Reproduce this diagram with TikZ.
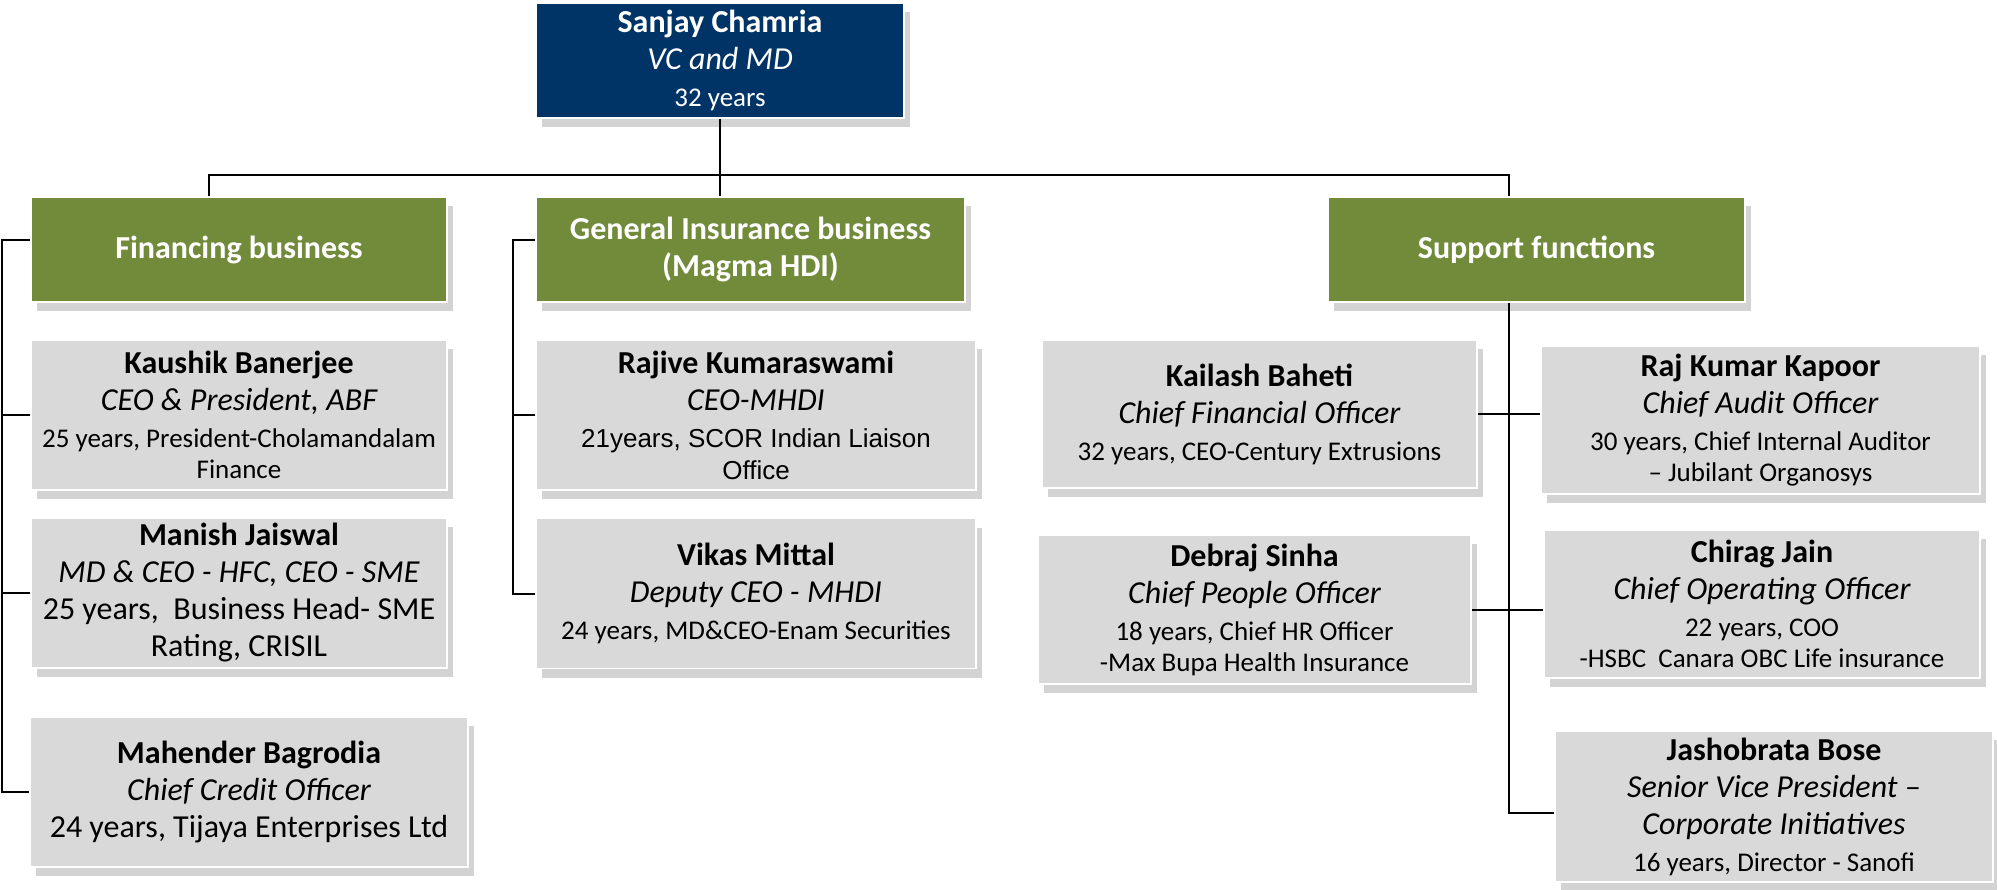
\documentclass[tikz,border=0pt]{standalone}
\usepackage{fontspec}
\setmainfont{Carlito}
\newfontfamily\arialfont{Liberation Sans}
\usetikzlibrary{positioning,shadows}

\definecolor{ceoblue}{RGB}{0,51,102}
\definecolor{unitgreen}{RGB}{113,139,59}
\definecolor{boxgray}{RGB}{217,217,217}

\newcommand{\whoname}[1]{{\bfseries #1}}
\newcommand{\whorole}[1]{{\itshape #1}}
\newcommand{\whoinfo}[1]{{\fontsize{27}{31}\selectfont #1}}
\newcommand{\whoarial}[1]{{\arialfont\fontsize{26}{30}\selectfont #1}}

\begin{document}
\begin{tikzpicture}[x=1pt,y=-1pt,line width=2pt,
		box/.style={rectangle,draw=white,line width=1.5pt,inner sep=0pt,align=center,
			font=\fontsize{32}{37}\selectfont,
			drop shadow={shadow xshift=6pt,shadow yshift=-9pt,opacity=0.35}},
		ceo node/.style={box,fill=ceoblue,text=white},
		unit node/.style={box,fill=unitgreen,text=white,font=\fontsize{32}{37}\selectfont\bfseries,minimum height=105pt},
		person node/.style={box,fill=boxgray,text=black}]
		\useasboundingbox (0,0) rectangle (1997,889);

		%% Nodes
		\begin{scope}
			\node (ceo) at (720,60.5) [ceo node, minimum width=368pt, minimum height=115pt] {\whoname{Sanjay Chamria}\\ \whorole{VC and MD}\\ \whoinfo{32 years}};

			\node (fin) at (239,249.5) [unit node, minimum width=416pt] {Financing business};
			\node (gen) at (750.5,249.5) [unit node, minimum width=429pt] {General Insurance business\\ (Magma HDI)};
			\node (sup) at (1536.5,249.5) [unit node, minimum width=417pt] {Support functions};
		\end{scope}

		% Financing business
		\begin{scope}
			\node (fin1) at (239,415) [person node, minimum width=416pt, minimum height=150pt] {\whoname{Kaushik Banerjee}\\ \whorole{CEO \& President, ABF}\\ \whoinfo{25 years, President-Cholamandalam}\\[-6pt] \whoinfo{Finance}};
			\node (fin2) at (239,593) [person node, minimum width=416pt, minimum height=150pt] {\whoname{Manish Jaiswal}\\ \whorole{MD \& CEO - HFC, CEO - SME}\\ 25 years,~ Business Head- SME\\ Rating, CRISIL};
			\node (fin3) at (249,792) [person node, minimum width=438pt, minimum height=150pt] {\whoname{Mahender Bagrodia}\\ \whorole{Chief Credit Officer}\\ 24 years, Tijaya Enterprises Ltd};
		\end{scope}

		% General Insurance business
		\begin{scope}
			\node (ins1) at (756,415) [person node, minimum width=440pt, minimum height=150pt] {\whoname{Rajive Kumaraswami}\\ \whorole{CEO-MHDI}\\ \whoarial{21years, SCOR Indian Liaison}\\[-5pt] \whoarial{Office}};
			\node (ins2) at (756,593.5) [person node, minimum width=440pt, minimum height=150pt] {\whoname{Vikas Mittal}\\ \whorole{Deputy CEO - MHDI}\\ \whoinfo{24 years, MD\&CEO-Enam Securities}};
		\end{scope}

		% Support functions
		\begin{scope}
			\node (sf1) at (1259.5,414) [person node, minimum width=435pt, minimum height=148pt] {\whoname{Kailash Baheti}\\ \whorole{Chief Financial Officer}\\ \whoinfo{32 years, CEO-Century Extrusions}};
			\node (sf2) at (1760.5,420) [person node, minimum width=439pt, minimum height=148pt] {\whoname{Raj Kumar Kapoor}\\ \whorole{Chief Audit Officer}\\ \whoinfo{30 years, Chief Internal Auditor}\\[-6pt] \whoinfo{-- Jubilant Organosys}};
			\node (sf3) at (1254.5,609.5) [person node, minimum width=433pt, minimum height=149pt] {\whoname{Debraj Sinha}\\ \whorole{Chief People Officer}\\ \whoinfo{18 years, Chief HR Officer}\\[-6pt] \whoinfo{-Max Bupa Health Insurance}};
			\node (sf4) at (1762,604) [person node, minimum width=436pt, minimum height=148pt] {\whoname{Chirag Jain}\\ \whorole{Chief Operating Officer}\\ \whoinfo{22 years, COO}\\[-6pt] \whoinfo{-HSBC~ Canara OBC Life insurance}};
			\node (sf5) at (1774,806.5) [person node, minimum width=438pt, minimum height=151pt] {\whoname{Jashobrata Bose}\\ \whorole{Senior Vice President --}\\ \whorole{Corporate Initiatives}\\ \whoinfo{16 years, Director - Sanofi}};
		\end{scope}

		%% Edges
		\coordinate (bus) at (720,175);
		\coordinate (fin spine) at (2,0);
		\coordinate (gen spine) at (513,0);

		\draw (ceo.south) -- (ceo.south |- gen.north);
		\draw ([xshift=-30pt]fin.north) |- (bus) -| ([xshift=-27.5pt]sup.north);

		\draw ([yshift=10pt]fin.west) -| (fin spine |- fin3.west) -- (fin3.west);
		\draw (fin1.west) -- (fin spine |- fin1.west);
		\draw (fin2.west) -- (fin spine |- fin2.west);

		\draw ([yshift=10pt]gen.west) -| (gen spine |- ins2.west) -- (ins2.west);
		\draw (ins1.west) -- (gen spine |- ins1.west);

		\draw ([xshift=-27.5pt]sup.south) |- ([yshift=-6pt]sf5.west);
		\draw (sf1.east) -- (sf1.east -| sf2.west);
		\draw (sf3.east) -- (sf3.east -| sf4.west);
	\end{tikzpicture}
\end{document}
